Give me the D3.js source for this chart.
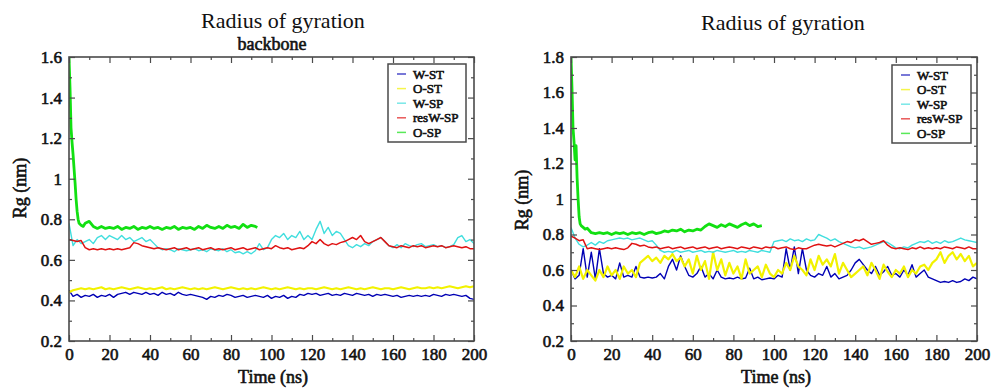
<!DOCTYPE html>
<html>
<head>
<meta charset="utf-8">
<script src="https://cdn.jsdelivr.net/npm/d3@7"></script>
<style>
  body { margin: 0; background: #fff; }
  svg text { font-family: "Liberation Serif", serif !important; font-weight: normal; fill: #111; }
  svg text.bold { stroke: #111; stroke-width: 0.6px; paint-order: stroke; }
</style>
</head>
<body>
<svg id="chart" width="999" height="389"></svg>
<script>
// series + colours (xmgrace order, last drawn on top)
const seriesNames = ['W-ST', 'O-ST', 'W-SP', 'resW-SP', 'O-SP'];
const seriesColors = ['#0000b4', '#f2f200', '#40dede', '#e01212', '#12e012'];

// shared time axis (ns), every 2 ns
const time = [
  0, 2, 4, 6, 8, 10, 12, 14, 16, 18,
  20, 22, 24, 26, 28, 30, 32, 34, 36, 38,
  40, 42, 44, 46, 48, 50, 52, 54, 56, 58,
  60, 62, 64, 66, 68, 70, 72, 74, 76, 78,
  80, 82, 84, 86, 88, 90, 92, 94, 96, 98,
  100, 102, 104, 106, 108, 110, 112, 114, 116, 118,
  120, 122, 124, 126, 128, 130, 132, 134, 136, 138,
  140, 142, 144, 146, 148, 150, 152, 154, 156, 158,
  160, 162, 164, 166, 168, 170, 172, 174, 176, 178,
  180, 182, 184, 186, 188, 190, 192, 194, 196, 198,
  200
];

const xTicks = [0, 20, 40, 60, 80, 100, 120, 140, 160, 180, 200];
const xMinorTicks = [10, 30, 50, 70, 90, 110, 130, 150, 170, 190];
const yTicksLeft = [0.2, 0.4, 0.6, 0.8, 1, 1.2, 1.4, 1.6];
const yMinorLeft = [0.3, 0.5, 0.7, 0.9, 1.1, 1.3, 1.5];
const yTicksRight = [0.2, 0.4, 0.6, 0.8, 1, 1.2, 1.4, 1.6, 1.8];
const yMinorRight = [0.3, 0.5, 0.7, 0.9, 1.1, 1.3, 1.5, 1.7];

// ---- left panel: backbone ----
const leftWST = [
  0.45, 0.42, 0.43, 0.415, 0.425, 0.42, 0.43, 0.415, 0.425, 0.42,
  0.43, 0.415, 0.43, 0.435, 0.44, 0.43, 0.44, 0.435, 0.43, 0.44,
  0.43, 0.435, 0.425, 0.44, 0.43, 0.435, 0.425, 0.44, 0.43, 0.425,
  0.43, 0.425, 0.42, 0.415, 0.405, 0.42, 0.415, 0.425, 0.42, 0.43,
  0.425, 0.415, 0.42, 0.425, 0.415, 0.42, 0.425, 0.42, 0.415, 0.425,
  0.41, 0.42, 0.415, 0.425, 0.41, 0.42, 0.415, 0.43, 0.425, 0.435,
  0.43, 0.435, 0.425, 0.43, 0.435, 0.425, 0.43, 0.425, 0.435, 0.43,
  0.425, 0.435, 0.43, 0.425, 0.43, 0.42, 0.43, 0.425, 0.43, 0.425,
  0.42, 0.425, 0.415, 0.42, 0.425, 0.42, 0.425, 0.42, 0.425, 0.42,
  0.43, 0.425, 0.42, 0.43, 0.425, 0.43, 0.425, 0.42, 0.425, 0.41,
  0.405
];
const leftOST = [
  0.44, 0.45, 0.455, 0.46, 0.455, 0.46, 0.455, 0.46, 0.465, 0.455,
  0.46, 0.455, 0.46, 0.465, 0.46, 0.455, 0.46, 0.465, 0.46, 0.455,
  0.46, 0.455, 0.46, 0.465, 0.455, 0.46, 0.455, 0.46, 0.465, 0.46,
  0.455, 0.46, 0.455, 0.46, 0.455, 0.46, 0.465, 0.46, 0.455, 0.46,
  0.465, 0.46, 0.455, 0.46, 0.455, 0.46, 0.455, 0.46, 0.465, 0.46,
  0.455, 0.46, 0.455, 0.46, 0.465, 0.46, 0.455, 0.46, 0.455, 0.46,
  0.46, 0.455, 0.46, 0.465, 0.46, 0.455, 0.46, 0.455, 0.46, 0.465,
  0.46, 0.455, 0.46, 0.455, 0.46, 0.465, 0.46, 0.455, 0.46, 0.46,
  0.455, 0.46, 0.465, 0.46, 0.455, 0.46, 0.465, 0.46, 0.46, 0.465,
  0.46, 0.465, 0.46, 0.465, 0.47, 0.465, 0.46, 0.465, 0.47, 0.465,
  0.47
];
const leftWSP = [
  0.78, 0.67, 0.70, 0.68, 0.69, 0.70, 0.68, 0.71, 0.72, 0.70,
  0.72, 0.71, 0.70, 0.72, 0.70, 0.71, 0.69, 0.70, 0.71, 0.69,
  0.70, 0.68, 0.66, 0.65, 0.655, 0.65, 0.64, 0.655, 0.65, 0.645,
  0.65, 0.655, 0.645, 0.65, 0.64, 0.655, 0.65, 0.645, 0.655, 0.64,
  0.65, 0.635, 0.64, 0.63, 0.64, 0.63, 0.645, 0.68, 0.65, 0.66,
  0.70, 0.72, 0.71, 0.73, 0.70, 0.72, 0.71, 0.74, 0.70, 0.72,
  0.70, 0.75, 0.79, 0.73, 0.76, 0.72, 0.74, 0.73, 0.70, 0.67,
  0.66, 0.675, 0.665, 0.68, 0.67, 0.69, 0.70, 0.71, 0.69, 0.67,
  0.66, 0.675, 0.66, 0.68, 0.67, 0.665, 0.675, 0.68, 0.665, 0.67,
  0.675, 0.665, 0.67, 0.66, 0.665, 0.675, 0.71, 0.72, 0.69, 0.70,
  0.68
];
const leftResWSP = [
  0.70, 0.695, 0.69, 0.695, 0.66, 0.65, 0.655, 0.65, 0.655, 0.65,
  0.655, 0.65, 0.655, 0.65, 0.655, 0.66, 0.685, 0.68, 0.67, 0.665,
  0.66, 0.655, 0.66, 0.655, 0.65, 0.655, 0.66, 0.65, 0.655, 0.66,
  0.65, 0.655, 0.66, 0.65, 0.655, 0.66, 0.65, 0.655, 0.65, 0.655,
  0.66, 0.65, 0.655, 0.66, 0.65, 0.655, 0.66, 0.65, 0.655, 0.66,
  0.655, 0.67, 0.66, 0.655, 0.66, 0.65, 0.655, 0.66, 0.655, 0.67,
  0.69, 0.68, 0.70, 0.68, 0.67, 0.68, 0.675, 0.685, 0.69, 0.70,
  0.71, 0.70, 0.72, 0.69, 0.68, 0.69, 0.70, 0.71, 0.69, 0.67,
  0.665, 0.66, 0.67, 0.665, 0.66, 0.67, 0.665, 0.67, 0.66, 0.665,
  0.67, 0.665, 0.67, 0.66, 0.665, 0.67, 0.665, 0.66, 0.665, 0.655,
  0.655
];
const leftOSPTime = [
  0, 0.5, 1, 1.5, 2, 2.5, 3, 3.5, 4, 4.5, 5, 6, 7, 8,
  10, 12, 14, 16, 18, 20, 22, 24, 26, 28, 30, 32, 34, 36, 38,
  40, 42, 44, 46, 48, 50, 52, 54, 56, 58, 60, 62, 64, 66, 68,
  70, 72, 74, 76, 78, 80, 82, 84, 86, 88, 90, 92, 93
];
const leftOSP = [
  1.60, 1.45, 1.25, 1.18, 1.12, 1.05, 0.98, 0.90, 0.84, 0.80, 0.78, 0.77, 0.765, 0.78,
  0.79, 0.765, 0.755, 0.765, 0.755, 0.76, 0.755, 0.765, 0.75, 0.76, 0.755, 0.765, 0.75, 0.76, 0.755,
  0.765, 0.755, 0.76, 0.75, 0.76, 0.755, 0.765, 0.75, 0.76, 0.755, 0.76, 0.75, 0.765, 0.755, 0.77,
  0.76, 0.755, 0.765, 0.755, 0.77, 0.76, 0.765, 0.755, 0.775, 0.76, 0.77, 0.765, 0.76
];

// ---- right panel ----
const rightWST = [
  0.60, 0.55, 0.57, 0.72, 0.56, 0.70, 0.55, 0.72, 0.58, 0.56,
  0.57, 0.55, 0.64, 0.56, 0.57, 0.56, 0.62, 0.56, 0.555, 0.56,
  0.555, 0.56, 0.58, 0.55, 0.62, 0.66, 0.60, 0.68, 0.62, 0.57,
  0.56, 0.58, 0.62, 0.56, 0.58, 0.55, 0.60, 0.56, 0.55, 0.555,
  0.55, 0.56, 0.55, 0.555, 0.61, 0.55, 0.56, 0.545, 0.55, 0.555,
  0.55, 0.57, 0.56, 0.72, 0.60, 0.73, 0.58, 0.72, 0.60, 0.57,
  0.56, 0.58, 0.57, 0.62, 0.56, 0.58, 0.55, 0.56, 0.57, 0.60,
  0.64, 0.66, 0.63, 0.60, 0.58, 0.62, 0.57, 0.59, 0.62, 0.57,
  0.58, 0.56, 0.60, 0.57, 0.63, 0.56, 0.58, 0.60, 0.56, 0.55,
  0.54, 0.53, 0.535, 0.53, 0.54, 0.53, 0.535, 0.55, 0.54, 0.56,
  0.55
];
const rightOST = [
  0.60, 0.56, 0.62, 0.55, 0.60, 0.57, 0.54, 0.60, 0.56, 0.62,
  0.57, 0.60, 0.55, 0.62, 0.58, 0.60, 0.56, 0.64, 0.66, 0.68,
  0.65, 0.67, 0.64, 0.68, 0.66, 0.69, 0.65, 0.67, 0.62, 0.66,
  0.58, 0.68, 0.60, 0.65, 0.55, 0.70, 0.60, 0.66, 0.57, 0.64,
  0.58, 0.62, 0.55, 0.66, 0.58, 0.60, 0.62, 0.56, 0.63, 0.58,
  0.56, 0.60, 0.58, 0.64, 0.60, 0.68, 0.62, 0.60, 0.57, 0.66,
  0.60, 0.68, 0.63, 0.66, 0.62, 0.69, 0.58, 0.64, 0.60, 0.56,
  0.58, 0.60, 0.62, 0.57, 0.64, 0.60, 0.55, 0.63, 0.59, 0.56,
  0.60, 0.58, 0.62, 0.56, 0.60, 0.58, 0.62, 0.63, 0.60, 0.64,
  0.66, 0.70, 0.64, 0.68, 0.70, 0.66, 0.69, 0.65, 0.68, 0.62,
  0.64
];
const rightWSP = [
  0.84, 0.78, 0.745, 0.73, 0.74, 0.755, 0.74, 0.76, 0.75, 0.765,
  0.77, 0.775, 0.78, 0.775, 0.78, 0.77, 0.775, 0.78, 0.77, 0.76,
  0.765, 0.74, 0.71, 0.70, 0.705, 0.70, 0.71, 0.70, 0.705, 0.71,
  0.70, 0.705, 0.71, 0.70, 0.705, 0.70, 0.71, 0.705, 0.70, 0.705,
  0.71, 0.70, 0.705, 0.70, 0.71, 0.705, 0.70, 0.71, 0.705, 0.70,
  0.76, 0.765, 0.77, 0.76, 0.775, 0.765, 0.77, 0.76, 0.775, 0.765,
  0.77, 0.80, 0.79, 0.78, 0.765, 0.775, 0.76, 0.75, 0.74, 0.73,
  0.725, 0.73, 0.72, 0.725, 0.73, 0.74, 0.75, 0.76, 0.755, 0.74,
  0.725, 0.72, 0.73, 0.725, 0.74, 0.75, 0.76, 0.755, 0.765, 0.75,
  0.76, 0.75, 0.765, 0.755, 0.76, 0.77, 0.78, 0.77, 0.765, 0.76,
  0.755
];
const rightResWSP = [
  0.79, 0.78, 0.765, 0.77, 0.72, 0.725, 0.72, 0.715, 0.72, 0.725,
  0.72, 0.725, 0.72, 0.715, 0.725, 0.75, 0.745, 0.735, 0.74, 0.73,
  0.725, 0.73, 0.72, 0.725, 0.73, 0.72, 0.725, 0.73, 0.72, 0.725,
  0.73, 0.72, 0.725, 0.73, 0.72, 0.725, 0.73, 0.72, 0.725, 0.73,
  0.725, 0.72, 0.73, 0.725, 0.72, 0.73, 0.725, 0.72, 0.73, 0.725,
  0.73, 0.72, 0.725, 0.73, 0.72, 0.715, 0.725, 0.72, 0.72, 0.73,
  0.74, 0.745, 0.74, 0.735, 0.74, 0.73, 0.74, 0.75, 0.76, 0.755,
  0.77, 0.765, 0.775, 0.76, 0.745, 0.75, 0.755, 0.765, 0.74, 0.725,
  0.72, 0.725, 0.72, 0.715, 0.725, 0.72, 0.73, 0.72, 0.725, 0.72,
  0.725, 0.72, 0.73, 0.725, 0.72, 0.73, 0.725, 0.72, 0.73, 0.72,
  0.72
];
const rightOSPTime = [
  0, 0.5, 1, 1.5, 2, 2.5, 3, 3.5, 4, 4.5, 5, 6, 7, 8,
  10, 12, 14, 16, 18, 20, 22, 24, 26, 28, 30, 32, 34, 36, 38,
  40, 42, 44, 46, 48, 50, 52, 54, 56, 58, 60, 62, 64, 66, 68,
  70, 72, 74, 76, 78, 80, 82, 84, 86, 88, 90, 92, 94
];
const rightOSP = [
  1.80, 1.62, 1.40, 1.32, 1.22, 1.30, 1.12, 1.00, 0.90, 0.86, 0.85, 0.84, 0.83, 0.835,
  0.81, 0.805, 0.81, 0.805, 0.81, 0.80, 0.81, 0.805, 0.81, 0.80, 0.81, 0.805, 0.81, 0.80, 0.81,
  0.815, 0.805, 0.81, 0.82, 0.815, 0.825, 0.82, 0.83, 0.815, 0.825, 0.82, 0.83, 0.825, 0.845, 0.86,
  0.85, 0.84, 0.855, 0.845, 0.86, 0.85, 0.84, 0.855, 0.865, 0.85, 0.86, 0.845, 0.85
];

const panels = [
  {
    title: 'Radius of gyration', titleX: 283, titleY: 28,
    subtitle: 'backbone', subX: 272, subY: 50,
    left: 69, right: 474, yMax: 1.6,
    yTicks: yTicksLeft, yMinor: yMinorLeft,
    xLabelX: 273, yLabelY: 188,
    legend: { x: 388, y: 64, w: 78, h: 78 },
    series: [
      { t: time, v: leftWST }, { t: time, v: leftOST }, { t: time, v: leftWSP },
      { t: time, v: leftResWSP }, { t: leftOSPTime, v: leftOSP }
    ]
  },
  {
    title: 'Radius of gyration', titleX: 783, titleY: 30,
    subtitle: null,
    left: 571, right: 977, yMax: 1.8,
    yTicks: yTicksRight, yMinor: yMinorRight,
    xLabelX: 776, yLabelY: 200,
    legend: { x: 892, y: 65, w: 79, h: 78 },
    series: [
      { t: time, v: rightWST }, { t: time, v: rightOST }, { t: time, v: rightWSP },
      { t: time, v: rightResWSP }, { t: rightOSPTime, v: rightOSP }
    ]
  }
];

const lineWidths = [1.4, 2.2, 1.4, 1.5, 2.8];
const plotTop = 57, plotBottom = 341;
const frameColor = '#4a4a4a';
const serif = '"Liberation Serif", serif';

const svg = d3.select('#chart');
svg.append('rect').attr('width', 999).attr('height', 389).attr('fill', '#fff');

panels.forEach((p, pi) => {
  const x = d3.scaleLinear().domain([0, 200]).range([p.left, p.right]);
  const y = d3.scaleLinear().domain([0.2, p.yMax]).range([plotBottom, plotTop]);
  const g = svg.append('g');

  // clip lines to the plot box
  g.append('clipPath').attr('id', 'clip' + pi)
    .append('rect')
    .attr('x', p.left).attr('y', plotTop)
    .attr('width', p.right - p.left).attr('height', plotBottom - plotTop);

  const line = d3.line().x(d => x(d[0])).y(d => y(d[1]));
  const lines = g.append('g').attr('clip-path', `url(#clip${pi})`);
  p.series.forEach((s, i) => {
    lines.append('path')
      .datum(s.t.map((tt, k) => [tt, s.v[k]]))
      .attr('d', line)
      .attr('fill', 'none')
      .attr('stroke', seriesColors[i])
      .attr('stroke-width', lineWidths[i])
      .attr('stroke-linejoin', 'round');
  });

  // inward ticks on all four sides
  const styleAxis = sel => {
    sel.attr('font-family', serif).attr('font-size', 17);
    sel.select('.domain').remove();
    sel.selectAll('.tick line').attr('stroke', frameColor).attr('stroke-width', 1.2);
    sel.selectAll('text')
      .attr('class', 'bold')
      .attr('font-family', serif)
      .attr('font-size', 17)
      .attr('fill', '#111');
  };
  g.append('g').attr('transform', `translate(0,${plotBottom})`)
    .call(d3.axisBottom(x).tickValues(xTicks).tickSize(-6).tickPadding(7).tickFormat(d3.format('d')))
    .call(styleAxis);
  g.append('g').attr('transform', `translate(0,${plotBottom})`)
    .call(d3.axisBottom(x).tickValues(xMinorTicks).tickSize(-3).tickFormat(''))
    .call(styleAxis);
  g.append('g').attr('transform', `translate(0,${plotTop})`)
    .call(d3.axisTop(x).tickValues(xTicks).tickSize(-6).tickFormat(''))
    .call(styleAxis);
  g.append('g').attr('transform', `translate(0,${plotTop})`)
    .call(d3.axisTop(x).tickValues(xMinorTicks).tickSize(-3).tickFormat(''))
    .call(styleAxis);
  g.append('g').attr('transform', `translate(${p.left},0)`)
    .call(d3.axisLeft(y).tickValues(p.yTicks).tickSize(-6).tickPadding(7).tickFormat(d3.format('~g')))
    .call(styleAxis);
  g.append('g').attr('transform', `translate(${p.left},0)`)
    .call(d3.axisLeft(y).tickValues(p.yMinor).tickSize(-3).tickFormat(''))
    .call(styleAxis);
  g.append('g').attr('transform', `translate(${p.right},0)`)
    .call(d3.axisRight(y).tickValues(p.yTicks).tickSize(-6).tickFormat(''))
    .call(styleAxis);
  g.append('g').attr('transform', `translate(${p.right},0)`)
    .call(d3.axisRight(y).tickValues(p.yMinor).tickSize(-3).tickFormat(''))
    .call(styleAxis);

  g.append('rect')
    .attr('x', p.left).attr('y', plotTop)
    .attr('width', p.right - p.left).attr('height', plotBottom - plotTop)
    .attr('fill', 'none').attr('stroke', frameColor).attr('stroke-width', 1.6);

  // titles
  g.append('text').attr('x', p.titleX).attr('y', p.titleY)
    .attr('text-anchor', 'middle').attr('font-size', 22)
    .text(p.title);
  if (p.subtitle) {
    g.append('text').attr('class', 'bold').attr('x', p.subX).attr('y', p.subY)
      .attr('text-anchor', 'middle').attr('font-size', 18)
      .text(p.subtitle);
  }
  g.append('text').attr('class', 'bold').attr('x', p.xLabelX).attr('y', 383)
    .attr('text-anchor', 'middle').attr('font-size', 18)
    .text('Time (ns)');
  g.append('text').attr('class', 'bold')
    .attr('transform', `translate(${p.left - 43},${p.yLabelY}) rotate(-90)`)
    .attr('text-anchor', 'middle').attr('font-size', 18)
    .text('Rg (nm)');

  // legend box
  const lg = g.append('g').attr('transform', `translate(${p.legend.x},${p.legend.y})`);
  lg.append('rect').attr('width', p.legend.w).attr('height', p.legend.h)
    .attr('fill', '#fff').attr('stroke', frameColor).attr('stroke-width', 1.5);
  seriesNames.forEach((name, i) => {
    const yy = 10 + i * 14.6;
    lg.append('line').attr('x1', 9).attr('x2', 18).attr('y1', yy).attr('y2', yy)
      .attr('stroke', seriesColors[i]).attr('stroke-width', 1.5).attr('opacity', 0.7);
    lg.append('text').attr('class', 'bold').attr('x', 25).attr('y', yy + 4.5)
      .attr('font-size', 13)
      .text(name);
  });
});
</script>
</body>
</html>
